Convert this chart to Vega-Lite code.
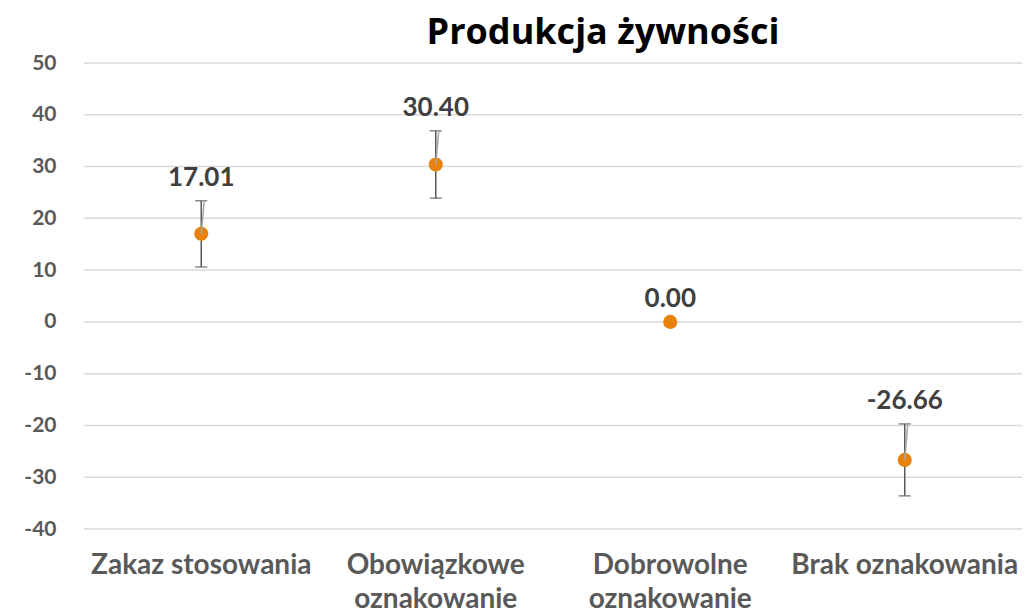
{
  "$schema": "https://vega.github.io/schema/vega-lite/v6.json",
  "autosize": {"type": "none"},
  "width": 938,
  "height": 466,
  "padding": {"left": 84, "top": 63, "right": 8, "bottom": 85},
  "background": "white",
  "view": {"stroke": null},
  "title": {
    "text": "Produkcja żywności",
    "font": "Open Sans",
    "fontSize": 36,
    "fontWeight": "bold",
    "color": "#000000",
    "anchor": "middle",
    "frame": "group",
    "dx": 50,
    "offset": 0
  },
  "data": {
    "values": [
      {"cat": "Zakaz stosowania", "value": 17.01, "lower": 10.6, "upper": 23.4, "label": "17.01"},
      {"cat": "Obowiązkowe oznakowanie", "value": 30.40, "lower": 23.9, "upper": 36.9, "label": "30.40"},
      {"cat": "Dobrowolne oznakowanie", "value": 0.00, "lower": 0, "upper": 0, "label": "0.00"},
      {"cat": "Brak oznakowania", "value": -26.66, "lower": -33.6, "upper": -19.7, "label": "-26.66"}
    ]
  },
  "encoding": {
    "x": {
      "field": "cat",
      "type": "nominal",
      "sort": ["Zakaz stosowania", "Obowiązkowe oznakowanie", "Dobrowolne oznakowanie", "Brak oznakowania"],
      "scale": {"paddingInner": 0, "paddingOuter": 0},
      "axis": {
        "title": null,
        "labelAngle": 0,
        "labelFont": "Lato",
        "labelFontSize": 28,
        "labelFontWeight": "bold",
        "labelColor": "#595959",
        "labelPadding": 22,
        "labelLineHeight": 34,
        "labelLimit": 400,
        "labelExpr": "length(datum.label) > 18 ? split(datum.label, ' ') : datum.label",
        "ticks": false,
        "domain": false,
        "grid": false
      }
    }
  },
  "layer": [
    {
      "mark": {"type": "rule", "color": "#d9d9d9", "strokeWidth": 1.5},
      "data": {"values": [{"v": 50}, {"v": 40}, {"v": 30}, {"v": 20}, {"v": 10}, {"v": 0}, {"v": -10}, {"v": -20}, {"v": -30}, {"v": -40}]},
      "encoding": {
        "x": null,
        "y": {"field": "v", "type": "quantitative"}
      }
    },
    {
      "transform": [{"filter": "datum.upper != datum.lower"}],
      "mark": {"type": "rule", "color": "#595959", "strokeWidth": 1.5},
      "encoding": {
        "y": {"field": "lower", "type": "quantitative"},
        "y2": {"field": "upper"}
      }
    },
    {
      "transform": [{"filter": "datum.upper != datum.lower"}],
      "mark": {"type": "tick", "color": "#595959", "thickness": 1.5, "size": 12, "orient": "horizontal"},
      "encoding": {"y": {"field": "upper", "type": "quantitative"}}
    },
    {
      "transform": [{"filter": "datum.upper != datum.lower"}],
      "mark": {"type": "tick", "color": "#595959", "thickness": 1.5, "size": 12, "orient": "horizontal"},
      "encoding": {"y": {"field": "lower", "type": "quantitative"}}
    },
    {
      "mark": {"type": "circle", "color": "#E8820C", "opacity": 1, "size": 200},
      "encoding": {
        "y": {
          "field": "value",
          "type": "quantitative",
          "scale": {"domain": [-40, 50], "nice": false, "zero": false},
          "axis": {
            "title": null,
            "values": [50, 40, 30, 20, 10, 0, -10, -20, -30, -40],
            "labelExpr": "'' + datum.value",
            "labelFont": "Lato",
            "labelFontSize": 21,
            "labelFontWeight": "bold",
            "labelColor": "#595959",
            "labelPadding": 28,
            "ticks": false,
            "domain": false,
            "grid": false
          }
        }
      }
    },
    {
      "transform": [{"filter": "datum.upper != datum.lower"}],
      "mark": {"type": "rule", "color": "#a6a6a6", "strokeWidth": 1.5, "x2Offset": 3},
      "encoding": {
        "x2": {"field": "cat"},
        "y": {"field": "value", "type": "quantitative"},
        "y2": {"field": "upper"}
      }
    },
    {
      "mark": {"type": "text", "font": "Lato", "fontSize": 26, "fontWeight": "bold", "color": "#404040", "dy": -23, "baseline": "middle"},
      "encoding": {
        "y": {"field": "upper", "type": "quantitative"},
        "text": {"field": "label", "type": "nominal"}
      }
    }
  ]
}
